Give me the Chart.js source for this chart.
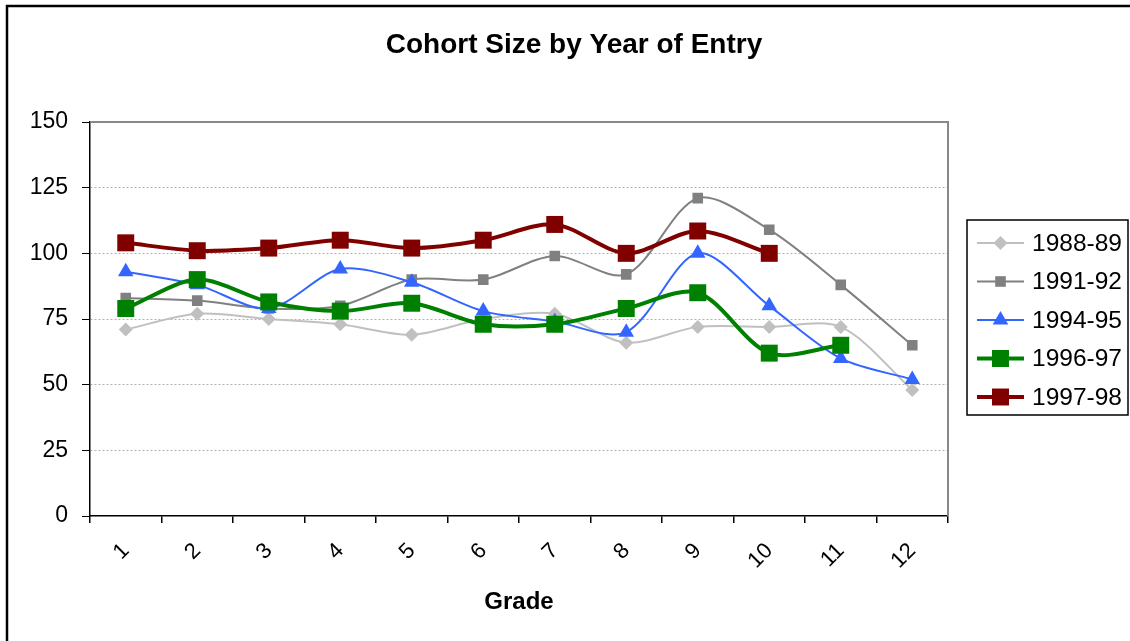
<!DOCTYPE html>
<html>
<head>
<meta charset="utf-8">
<script src="https://cdn.jsdelivr.net/npm/chart.js@4.4.0/dist/chart.umd.min.js"></script>
<style>
  html, body { margin: 0; padding: 0; background: #fff; }
  #wrap { position: relative; width: 1130px; height: 641px; }
</style>
</head>
<body>
<div id="wrap"><canvas id="chart"></canvas></div>
<script>
// values
const grades = ['1', '2', '3', '4', '5', '6', '7', '8', '9', '10', '11', '12'];
const seriesNames = ['1988-89', '1991-92', '1994-95', '1996-97', '1997-98'];
const cohort8889 = [71, 77, 75, 73, 69, 75, 77, 66, 72, 72, 72, 48];
const cohort9192 = [83, 82, 79, 80, 90, 90, 99, 92, 121, 109, 88, 65];
const cohort9495 = [93, 88, 79, 94, 89, 78, 74, 70, 100, 80, 60, 52];
const cohort9697 = [79, 90, 81.5, 78, 81, 73, 73, 79, 85, 62, 65, null];
const cohort9798 = [104, 101, 102, 105, 102, 105, 111, 100, 108.5, 100, null, null];
const yTicks = [0, 25, 50, 75, 100, 125, 150];

const FONT = '"Liberation Sans", Arial, sans-serif';

const styles = [
    { color: '#c0c0c0', width: 2, point: 'rectRot', r: 7 },
    { color: '#808080', width: 2, point: 'rect', r: 7.5 },
    { color: '#3366ff', width: 2, point: 'triangle', r: 9 },
    { color: '#008000', width: 4, point: 'rect', r: 12 },
    { color: '#800000', width: 4, point: 'rect', r: 12 }
];
const allData = [cohort8889, cohort9192, cohort9495, cohort9697, cohort9798];

const datasets = allData.map((d, i) => ({
    label: seriesNames[i],
    data: d,
    borderColor: styles[i].color,
    backgroundColor: styles[i].color,
    borderWidth: styles[i].width,
    pointStyle: styles[i].point,
    pointRadius: styles[i].r,
    pointBorderWidth: 0,
    tension: 0.3,
    order: allData.length - i  // later series on top, like Excel
}));

function marker(ctx, style, x, y, r, color) {
    ctx.fillStyle = color;
    ctx.beginPath();
    if (style === 'rectRot') {
        ctx.moveTo(x, y - r); ctx.lineTo(x + r, y); ctx.lineTo(x, y + r); ctx.lineTo(x - r, y);
    } else if (style === 'triangle') {
        ctx.moveTo(x, y - r); ctx.lineTo(x + r * 0.866, y + r * 0.5); ctx.lineTo(x - r * 0.866, y + r * 0.5);
    } else {
        const s = r * Math.SQRT1_2;
        ctx.rect(x - s, y - s, 2 * s, 2 * s);
    }
    ctx.closePath();
    ctx.fill();
}

const decor = {
    id: 'decor',
    afterDraw(chart) {
        const ctx = chart.ctx;
        const a = chart.chartArea;
        ctx.save();
        // outer frame (left + top)
        ctx.strokeStyle = '#000';
        ctx.lineWidth = 2.5;
        ctx.beginPath();
        ctx.moveTo(7, 645); ctx.lineTo(7, 6); ctx.lineTo(1135, 6);
        ctx.stroke();
        // plot area border top/right
        ctx.strokeStyle = '#888';
        ctx.lineWidth = 2;
        ctx.beginPath();
        ctx.moveTo(a.left, a.top); ctx.lineTo(a.right, a.top); ctx.lineTo(a.right, a.bottom);
        ctx.stroke();
        // title
        ctx.fillStyle = '#000';
        ctx.textAlign = 'center';
        ctx.textBaseline = 'middle';
        ctx.font = 'bold 28px ' + FONT;
        ctx.fillText('Cohort Size by Year of Entry', 574, 45);
        ctx.font = 'bold 24px ' + FONT;
        ctx.fillText('Grade', (a.left + a.right) / 2, 602);
        // legend
        ctx.strokeStyle = '#000';
        ctx.lineWidth = 1.5;
        ctx.strokeRect(967, 220, 161, 195);
        ctx.textAlign = 'left';
        ctx.font = '24.5px ' + FONT;
        seriesNames.forEach((name, i) => {
            const y = 243 + i * 38.5;
            const st = styles[i];
            ctx.strokeStyle = st.color;
            ctx.lineWidth = st.width;
            ctx.beginPath();
            ctx.moveTo(977, y); ctx.lineTo(1024, y);
            ctx.stroke();
            marker(ctx, st.point, 1000.5, y, st.r, st.color);
            ctx.fillStyle = '#000';
            ctx.fillText(name, 1032, y + 1);
        });
        ctx.restore();
    }
};

new Chart(document.getElementById('chart'), {
    type: 'line',
    data: { labels: grades, datasets: datasets },
    options: {
        responsive: true,
        maintainAspectRatio: false,
        animation: false,
        layout: { padding: { top: 122, right: 182, bottom: 0, left: 0 } },
        plugins: { legend: { display: false }, title: { display: false }, tooltip: { enabled: false } },
        scales: {
            x: {
                type: 'category',
                offset: true,
                grid: { offset: true, drawOnChartArea: false, tickLength: 7, tickColor: '#000', lineWidth: 1.5 },
                border: { color: '#000', width: 1.5 },
                ticks: { color: '#000', font: { family: FONT, size: 22 }, minRotation: 45, maxRotation: 45, padding: 15 },
                afterFit: s => { s.height = 125; }
            },
            y: {
                min: yTicks[0],
                max: yTicks[yTicks.length - 1],
                afterBuildTicks: s => { s.ticks = yTicks.map(v => ({ value: v })); },
                grid: {
                    color: c => (c.tick && (c.tick.value === 0 || c.tick.value === 150)) ? 'rgba(0,0,0,0)' : '#b0b0b0',
                    tickColor: '#000', tickLength: 8, lineWidth: 1
                },
                border: { color: '#000', width: 1.5, dash: [2, 2] },
                ticks: { color: '#000', font: { family: FONT, size: 23 }, padding: 14 },
                afterFit: s => { s.width = 90; }
            }
        }
    },
    plugins: [decor]
});
</script>
</body>
</html>
